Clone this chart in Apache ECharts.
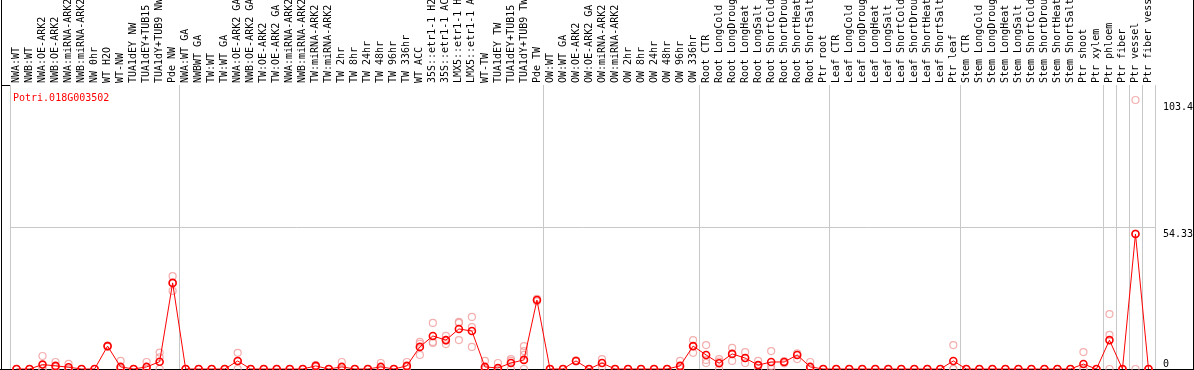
<!DOCTYPE html>
<html>
<head>
<meta charset="utf-8">
<script src="https://cdn.jsdelivr.net/npm/echarts@6/dist/echarts.min.js"></script>
<style>
  html, body { margin: 0; padding: 0; background: #fff; }
  #chart { width: 1194px; height: 370px; }
</style>
</head>
<body>
<div id="chart"></div>
<script>
// sample names, top axis
var samples = [
  'NWA:WT', 'NWB:WT', 'NWA:OE-ARK2', 'NWB:OE-ARK2', 'NWA:miRNA-ARK2', 'NWB:miRNA-ARK2',
  'NW 0hr', 'WT H2O', 'WT-NW', 'TUA1dEY NW', 'TUA1dEY+TUB15 NW', 'TUA1dY+TUB9 NW', 'Pde NW',
  'NWA:WT GA', 'NWBWT GA', 'TW:WT', 'TW:WT GA', 'NWA:OE-ARK2 GA', 'NWB:OE-ARK2 GA',
  'TW:OE-ARK2', 'TW:OE-ARK2 GA', 'NWA:miRNA-ARK2 GA', 'NWB:miRNA-ARK2 GA', 'TW:miRNA-ARK2',
  'TW:miRNA-ARK2 GA', 'TW 2hr', 'TW 8hr', 'TW 24hr', 'TW 48hr', 'TW 96hr', 'TW 336hr',
  'WT ACC', '35S::etr1-1 H2O', '35S::etr1-1 ACC', 'LMX5::etr1-1 H2O', 'LMX5::etr1-1 ACC',
  'WT-TW', 'TUA1dEY TW', 'TUA1dEY+TUB15 TW', 'TUA1dY+TUB9 TW', 'Pde TW',
  'OW:WT', 'OW:WT GA', 'OW:OE-ARK2', 'OW:OE-ARK2 GA', 'OW:miRNA-ARK2', 'OW:miRNA-ARK2 GA',
  'OW 2hr', 'OW 8hr', 'OW 24hr', 'OW 48hr', 'OW 96hr', 'OW 336hr',
  'Root CTR', 'Root LongCold', 'Root LongDrought', 'Root LongHeat', 'Root LongSalt',
  'Root ShortCold', 'Root ShortDrought', 'Root ShortHeat', 'Root ShortSalt', 'Ptr root',
  'Leaf CTR', 'Leaf LongCold', 'Leaf LongDrought', 'Leaf LongHeat', 'Leaf LongSalt',
  'Leaf ShortCold', 'Leaf ShortDrought', 'Leaf ShortHeat', 'Leaf ShortSalt', 'Ptr leaf',
  'Stem CTR', 'Stem LongCold', 'Stem LongDrought', 'Stem LongHeat', 'Stem LongSalt',
  'Stem ShortCold', 'Stem ShortDrought', 'Stem ShortHeat', 'Stem ShortSalt', 'Ptr shoot',
  'Ptr xylem', 'Ptr phloem', 'Ptr fiber', 'Ptr vessel', 'Ptr fiber vessel'
];

// first sample of each experiment block (gray separators)
var groupStarts = [0, 13, 41, 53, 63, 73, 84, 85, 86, 87];

// mean expression (red line)
var meanValues = [
  0, 0, 1.7, 1.2, 0.7, 0, 0, 8.8, 0.8, 0, 0.8, 2.8, 33.1,
  0, 0, 0, 0, 3.1, 0, 0, 0, 0, 0, 1.2, 0, 0.8, 0, 0, 0.8, 0, 1.2,
  8.5, 12.7, 11.1, 15.4, 14.6, 0.8, 0.4, 2.3, 3.5, 26.5,
  0, 0, 3.1, 0, 2.3, 0, 0, 0, 0, 0, 1.2, 8.8,
  5.4, 2.2, 5.8, 4.2, 1.5, 2.7, 2.7, 5.4, 0.8, 0,
  0, 0, 0, 0, 0, 0, 0, 0, 0, 3.1,
  0, 0, 0, 0, 0, 0, 0, 0, 0, 1.9, 0,
  11.1, 0, 51.9, 0
];

// replicates (pink circles)
var rep1 = [
  0, 0, 5.0, 2.7, 2.0, 0, 0, 9.0, 3.1, 0, 2.7, 6.3, 35.7,
  0, 0, 0, 0, 6.2, 0, 0, 0, 0, 0, 1.5, 0, 2.7, 0, 0, 2.3, 0, 2.7,
  10.4, 17.7, 12.7, 18.1, 20.0, 3.1, 2.3, 3.8, 8.8, 27.0,
  0, 0, 3.3, 0, 3.8, 0, 0, 0, 0, 0, 3.1, 11.1,
  9.2, 3.8, 8.1, 6.5, 3.1, 6.9, 3.0, 6.0, 2.7, 0,
  0, 0, 0, 0, 0, 0, 0, 0, 0, 9.2,
  0, 0, 0, 0, 0, 0, 0, 0, 0, 6.5, 0,
  21.1, 0, 103.4, 0
];
var rep2 = [
  0, 0, 0, 0.8, 0, 0, 0, 8.8, 0, 0, 0, 4.5, 33.1,
  0, 0, 0, 0, 3.0, 0, 0, 0, 0, 0, 1.2, 0, 0, 0, 0, 0, 0, 0.8,
  9.7, 10.4, 11.0, 17.7, 16.1, 0, 0, 3.1, 6.9, 26.5,
  0, 0, 3.1, 0, 2.3, 0, 0, 0, 0, 0, 0.5, 8.8,
  3.5, 2.8, 5.8, 4.2, 1.5, 1.2, 2.2, 5.4, 0, 0,
  0, 0, 0, 0, 0, 0, 0, 0, 0, 0,
  0, 0, 0, 0, 0, 0, 0, 0, 0, 0, 0,
  13.1, 0, 52.0, 0
];
var rep3 = [
  0, 0, 0, 0, 0, 0, 0, 8.6, 0, 0, 0, 0, 30.0,
  0, 0, 0, 0, 0, 0, 0, 0, 0, 0, 0.8, 0, 0, 0, 0, 0, 0, 0,
  5.4, 10.0, 9.6, 11.1, 8.5, 0, 0, 0, 5.4, 26.0,
  0, 0, 2.9, 0, 0.8, 0, 0, 0, 0, 0, 0, 6.2,
  2.3, 0, 3.1, 2.3, 0, 0, 2.7, 3.8, 0, 0,
  0, 0, 0, 0, 0, 0, 0, 0, 0, 0,
  0, 0, 0, 0, 0, 0, 0, 0, 0, 0, 0,
  0, 0, 0, 0
];
// a few samples show a fourth replicate
var rep4 = { 39: 0 };

var geneName = 'Potri.018G003502';
var yMarkValue = 54.33;
var yTopLabel = 103.4;

var chart = echarts.init(document.getElementById('chart'));

var repPoints = [];
[rep1, rep2, rep3].forEach(function (rep) {
  rep.forEach(function (v, i) { repPoints.push([i, v]); });
});
Object.keys(rep4).forEach(function (k) { repPoints.push([+k, rep4[k]]); });

var mono = 'DejaVu Sans Mono';
var gray = '#c8c8c8';
var isGroupStart = function (idx) { return groupStarts.indexOf(idx) >= 0; };
var yMax = 109.17;

var option = {
  animation: false,
  textStyle: { fontFamily: mono },
  title: {
    text: geneName,
    left: 8, top: 88,
    textStyle: { color: '#ff0000', fontFamily: mono, fontSize: 10, fontWeight: 'normal' }
  },
  grid: { left: 10, right: 39, top: 85, bottom: 1, containLabel: false, outerBoundsMode: 'none' },
  xAxis: {
    type: 'category',
    position: 'top',
    data: samples,
    boundaryGap: true,
    axisLine: { show: true, lineStyle: { color: '#000', width: 1 } },
    axisTick: { show: true, interval: isGroupStart, length: 85, lineStyle: { color: gray } },
    axisLabel: {
      interval: 0, rotate: 90, margin: 2, color: '#000',
      fontFamily: mono, fontSize: 10, hideOverlap: false
    },
    splitLine: { show: true, interval: isGroupStart, lineStyle: { color: gray, width: 1 } }
  },
  yAxis: [{
    type: 'value', position: 'right', min: 0, max: yMax,
    axisLine: { show: false }, axisTick: { show: false }, splitLine: { show: false },
    axisLabel: {
      customValues: [yMarkValue, yTopLabel], verticalAlign: 'top', align: 'left',
      padding: [2, 0, 0, 0],
      margin: 8, color: '#000', fontFamily: mono, fontSize: 10
    }
  }, {
    type: 'value', position: 'right', min: 0, max: yMax,
    axisLine: { show: false }, axisTick: { show: false }, splitLine: { show: false },
    axisLabel: {
      customValues: [0], verticalAlign: 'bottom', align: 'left',
      margin: 8, color: '#000', fontFamily: mono, fontSize: 10
    }
  }],
  series: [{
    type: 'scatter',
    data: repPoints,
    symbol: 'circle',
    symbolSize: 7,
    itemStyle: { color: 'rgba(0,0,0,0)', borderColor: '#f09a9a', borderWidth: 1.2 },
    silent: true,
    z: 2
  }, {
    type: 'line',
    data: meanValues,
    symbol: 'circle',
    symbolSize: 7,
    showAllSymbol: true,
    lineStyle: { color: '#ff0000', width: 1 },
    itemStyle: { color: 'rgba(0,0,0,0)', borderColor: '#ff0000', borderWidth: 1.6 },
    markLine: {
      silent: true, symbol: 'none', label: { show: false },
      lineStyle: { color: gray, type: 'solid', width: 1 },
      data: [{ yAxis: yMarkValue }]
    },
    z: 3
  }],
  graphic: [
    { type: 'line', shape: { x1: 1.5, y1: 0, x2: 1.5, y2: 370 }, style: { stroke: '#000', lineWidth: 1 }, z: 10 },
    { type: 'line', shape: { x1: 1193.5, y1: 0, x2: 1193.5, y2: 370 }, style: { stroke: '#000', lineWidth: 1 }, z: 10 },
    { type: 'line', shape: { x1: 0, y1: 369.5, x2: 1194, y2: 369.5 }, style: { stroke: '#000', lineWidth: 1 }, z: 1 },
    { type: 'line', shape: { x1: 1, y1: 85.5, x2: 10, y2: 85.5 }, style: { stroke: '#000', lineWidth: 1 }, z: 10 }
  ]
};

chart.setOption(option);
</script>
</body>
</html>
